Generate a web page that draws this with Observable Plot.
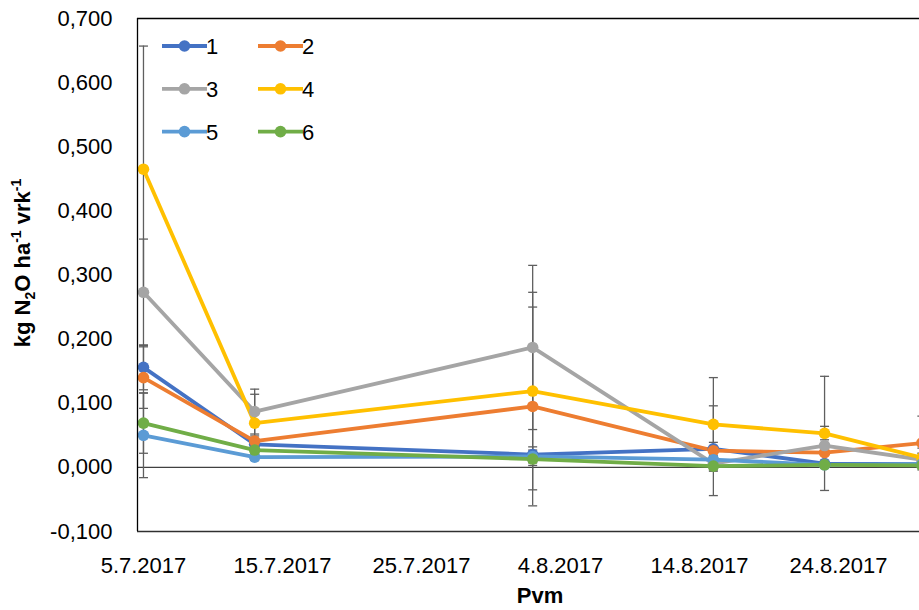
<!DOCTYPE html>
<html>
<head>
<meta charset="utf-8">
<script src="https://cdn.jsdelivr.net/npm/d3@7"></script>
<script src="https://cdn.jsdelivr.net/npm/@observablehq/plot@0.6"></script>
<style>
  html, body { margin: 0; padding: 0; background: #fff; }
  #chart { position: relative; width: 919px; height: 610px; overflow: hidden; }
</style>
</head>
<body>
<div id="chart"></div>
<script>
// ---- data ----
const dates = ["2017-07-05", "2017-07-13", "2017-08-02", "2017-08-15", "2017-08-23", "2017-08-30"];
const seriesNames = ["1", "2", "3", "4", "5", "6"];
const colors = ["#4472C4", "#ED7D31", "#A5A5A5", "#FFC000", "#5B9BD5", "#70AD47"];

const s1 = [0.156, 0.036, 0.020, 0.029, 0.006, 0.005];
const s2 = [0.140, 0.041, 0.095, 0.026, 0.023, 0.038];
const s3 = [0.273, 0.087, 0.187, 0.006, 0.034, 0.012];
const s4 = [0.465, 0.069, 0.119, 0.067, 0.053, 0.015];
const s5 = [0.050, 0.016, 0.017, 0.012, 0.004, 0.005];
const s6 = [0.069, 0.027, 0.013, 0.002, 0.004, 0.003];

const e1 = [0.035, 0.005, 0.012, 0.010, 0.005, 0.004];
const e2 = [0.048, 0.008, 0.155, 0.070, 0.020, 0.042];
const e3 = [0.083, 0.035, 0.128, 0.010, 0.030, 0.010];
const e4 = [0.192, 0.045, 0.154, 0.073, 0.089, 0.015];
const e5 = [0.066, 0.005, 0.010, 0.005, 0.003, 0.003];
const e6 = [0.047, 0.006, 0.010, 0.004, 0.003, 0.003];

const xTicks = ["2017-07-05", "2017-07-15", "2017-07-25", "2017-08-04", "2017-08-14", "2017-08-24"];
const yTicks = [-0.1, 0, 0.1, 0.2, 0.3, 0.4, 0.5, 0.6, 0.7];
const xLabel = "Pvm";

// ---- build table ----
const values = [s1, s2, s3, s4, s5, s6];
const errors = [e1, e2, e3, e4, e5, e6];
const parse = d3.utcParse("%Y-%m-%d");
const rows = [];
seriesNames.forEach((name, i) => {
  dates.forEach((d, j) => {
    rows.push({series: name, date: parse(d), v: values[i][j], e: errors[i][j]});
  });
});

const day = 864e5;
const start = parse(dates[0]);
const xDomain = [new Date(+start - 0.43 * day), new Date(+start + 55.83 * day)];
const yDomain = [-0.1, 0.7];

const capSymbol = {
  draw(context, size) {
    const w = Math.sqrt(size / Math.PI);
    context.moveTo(-w, 0);
    context.lineTo(w, 0);
  }
};

const fmtX = d => `${d.getUTCDate()}.${d.getUTCMonth() + 1}.${d.getUTCFullYear()}`;
const fmtY = d => d3.format(".3f")(d).replace("−", "-").replace(".", ",");

const errColor = "#5f5f5f";
const lineW = 3.8;
const dotR = 5.8;

const plot = Plot.plot({
  width: 919,
  height: 610,
  marginLeft: 137,
  marginRight: 0,
  marginTop: 18,
  marginBottom: 79,
  style: {fontFamily: "'Liberation Sans', Arial, sans-serif", fontSize: "22px", color: "#000", background: "#fff"},
  x: {type: "utc", domain: xDomain},
  y: {domain: yDomain},
  color: {domain: seriesNames, range: colors},
  marks: [
    Plot.ruleY([0], {stroke: "#404040", strokeWidth: 1.3}),
    Plot.ruleX(rows, {x: "date", y1: d => d.v - d.e, y2: d => d.v + d.e, stroke: errColor, strokeWidth: 1.3}),
    Plot.dot(rows, {x: "date", y: d => d.v + d.e, symbol: capSymbol, r: 4.5, stroke: errColor, strokeWidth: 1.3, fill: "none"}),
    Plot.dot(rows, {x: "date", y: d => d.v - d.e, symbol: capSymbol, r: 4.5, stroke: errColor, strokeWidth: 1.3, fill: "none"}),
    Plot.line(rows, {x: "date", y: "v", z: "series", stroke: "series", strokeWidth: lineW, curve: "linear"}),
    Plot.dot(rows, {x: "date", y: "v", fill: "series", r: dotR, stroke: "none"}),
    Plot.ruleY([yDomain[1]], {stroke: "#000", strokeWidth: 1.3}),
    Plot.ruleY([yDomain[0]], {stroke: "#303030", strokeWidth: 1.3}),
    Plot.ruleX([xDomain[0]], {stroke: "#000", strokeWidth: 1.3}),
    Plot.axisY({ticks: yTicks, tickSize: 0, tickPadding: 25, tickFormat: fmtY, label: null}),
    Plot.axisX({ticks: xTicks.map(parse), tickSize: 0, tickPadding: 26, tickFormat: fmtX, label: null})
  ]
});

document.getElementById("chart").appendChild(plot);

// ---- titles and legend (layout) ----
const svg = d3.select(plot);
const font = "'Liberation Sans', Arial, sans-serif";

// y-axis title with sub/superscripts
const yt = svg.append("text")
  .attr("transform", "translate(30,263) rotate(-90)")
  .attr("text-anchor", "middle")
  .attr("font-family", font)
  .attr("font-weight", "bold")
  .attr("font-size", 22)
  .attr("fill", "#000");
yt.append("tspan").text("kg N");
yt.append("tspan").attr("font-size", 14).attr("dy", 5).text("2");
yt.append("tspan").attr("dy", -5).text("O ha");
yt.append("tspan").attr("font-size", 14).attr("dy", -9).text("-1");
yt.append("tspan").attr("dy", 9).text(" vrk");
yt.append("tspan").attr("font-size", 14).attr("dy", -9).text("-1");

// x-axis title
svg.append("text")
  .attr("x", 540).attr("y", 603)
  .attr("text-anchor", "middle")
  .attr("font-family", font)
  .attr("font-weight", "bold")
  .attr("font-size", 22)
  .attr("fill", "#000")
  .text(xLabel);

// legend
const lg = svg.append("g").attr("font-family", font).attr("font-size", 22);
seriesNames.forEach((name, i) => {
  const col = i % 2, row = Math.floor(i / 2);
  const x0 = 162 + col * 96, y0 = 46 + row * 42.8;
  const g = lg.append("g").attr("transform", `translate(${x0},${y0})`);
  g.append("line").attr("x1", 0).attr("x2", 45).attr("y1", 0).attr("y2", 0)
    .attr("stroke", colors[i]).attr("stroke-width", lineW);
  g.append("circle").attr("cx", 22.5).attr("cy", 0).attr("r", dotR).attr("fill", colors[i]);
  g.append("text").attr("x", 50).attr("y", 0).attr("dy", "0.36em").attr("fill", "#000").text(name);
});
</script>
</body>
</html>
